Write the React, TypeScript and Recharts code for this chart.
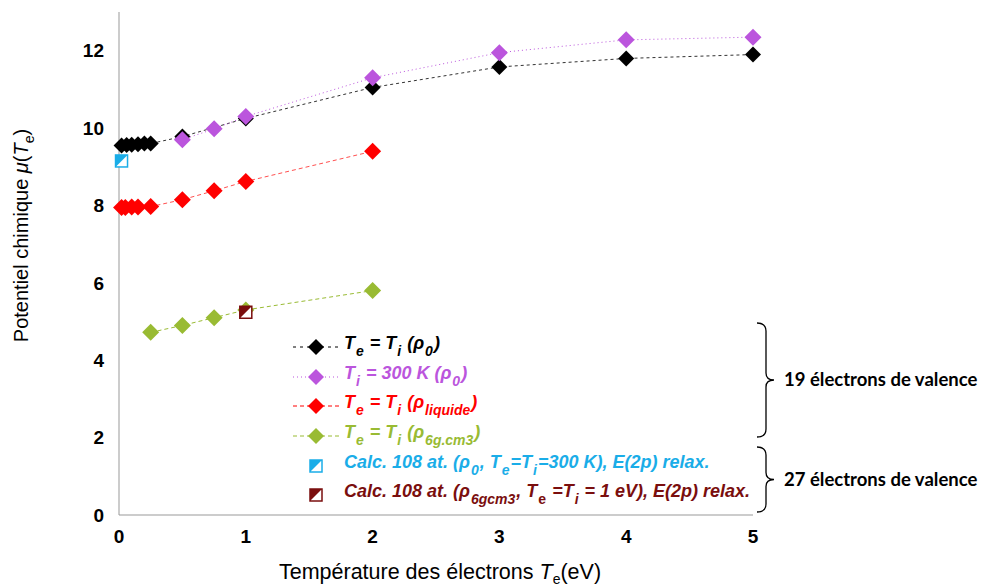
import React from "react";
import { ComposedChart, Line, Scatter, XAxis, YAxis } from "recharts";

// Te = Ti (rho0)
const blackX = [0.02, 0.06, 0.1, 0.15, 0.2, 0.25, 0.5, 1, 2, 3, 4, 5];
const blackY = [9.55, 9.56, 9.57, 9.58, 9.6, 9.6, 9.78, 10.25, 11.05, 11.58, 11.8, 11.9];
// Ti = 300 K (rho0)
const purpleX = [0.5, 0.75, 1, 2, 3, 4, 5];
const purpleY = [9.7, 9.98, 10.3, 11.3, 11.95, 12.28, 12.35];
// Te = Ti (rho liquide)
const redX = [0.02, 0.05, 0.1, 0.15, 0.25, 0.5, 0.75, 1, 2];
const redY = [7.95, 7.95, 7.96, 7.96, 7.97, 8.15, 8.38, 8.62, 9.4];
// Te = Ti (rho 6g.cm3)
const greenX = [0.25, 0.5, 0.75, 1, 2];
const greenY = [4.72, 4.9, 5.1, 5.3, 5.8];
// calculs 108 atomes
const calcBlueX = [0.02];
const calcBlueY = [9.15];
const calcRedX = [1];
const calcRedY = [5.24];

const xTicks = [0, 1, 2, 3, 4, 5];
const yTicks = [0, 2, 4, 6, 8, 10, 12];

const BLACK = "#000000";
const PURPLE = "#BB55DD";
const RED = "#FF0000";
const GREEN = "#99BB33";
const BLUE = "#1AADE8";
const DARKRED = "#7A0E0E";

const FONT = "'Liberation Sans', Arial, sans-serif";

const pts = (xs: number[], ys: number[]) => xs.map((x, i) => ({ x, y: ys[i] }));

const diamond = (color: string, r: number) => (p: any) => {
  const { cx, cy } = p;
  if (cx == null || cy == null) return <g key={Math.random()} />;
  return (
    <path
      key={`${cx}-${cy}`}
      d={`M${cx},${cy - r}L${cx + r},${cy}L${cx},${cy + r}L${cx - r},${cy}Z`}
      fill={color}
    />
  );
};

// carré à moitié rempli (triangle haut-gauche plein)
const halfSquare = (color: string) => (p: any) => {
  const { cx, cy } = p;
  const s = 6;
  return (
    <g>
      <rect x={cx - s} y={cy - s} width={2 * s} height={2 * s} fill="#fff" stroke={color} strokeWidth={1.5} />
      <path d={`M${cx - s},${cy + s}L${cx - s},${cy - s}L${cx + s},${cy - s}Z`} fill={color} />
    </g>
  );
};

const tickStyle = { fontSize: 19, fontWeight: 700, fill: "#000", fontFamily: FONT };

const Sub = ({ children }: { children: React.ReactNode }) => (
  <sub style={{ fontSize: 14, verticalAlign: "-7px", marginLeft: 1, marginRight: 1 }}>{children}</sub>
);

function Sample({ color, dash, square }: { color: string; dash?: string; square?: boolean }) {
  return (
    <svg width={50} height={20} style={{ flex: "none" }}>
      {square ? (
        halfSquare(color)({ cx: 25, cy: 10 })
      ) : (
        <>
          <line x1={2} y1={10} x2={48} y2={10} stroke={color} strokeDasharray={dash} strokeWidth={1} />
          <path d="M25,2L33,10L25,18L17,10Z" fill={color} />
        </>
      )}
    </svg>
  );
}

const legendRows = [
  {
    color: BLACK,
    dash: "3 4",
    text: (
      <>
        T<Sub>e</Sub> = T<Sub>i</Sub> (ρ<Sub>0</Sub>)
      </>
    ),
  },
  {
    color: PURPLE,
    dash: "1 3",
    text: (
      <>
        T<Sub>i</Sub> = 300 K (ρ<Sub>0</Sub>)
      </>
    ),
  },
  {
    color: RED,
    dash: "4 3",
    text: (
      <>
        T<Sub>e</Sub> = T<Sub>i</Sub> (ρ<Sub>liquide</Sub>)
      </>
    ),
  },
  {
    color: GREEN,
    dash: "4 3",
    text: (
      <>
        T<Sub>e</Sub> = T<Sub>i</Sub> (ρ<Sub>6g.cm3</Sub>)
      </>
    ),
  },
  {
    color: BLUE,
    square: true,
    text: (
      <>
        Calc. 108 at. (ρ<Sub>0</Sub>, T<Sub>e</Sub>=T<Sub>i</Sub>=300 K), E(2p) relax.
      </>
    ),
  },
  {
    color: DARKRED,
    square: true,
    text: (
      <>
        Calc. 108 at. (ρ<Sub>6gcm3</Sub>, T<span style={{ fontStyle: "normal" }}><Sub>e</Sub></span> =T<Sub>i</Sub> = 1 eV), E(2p) relax.
      </>
    ),
  },
];

const brackets = [
  { top: 323, bottom: 437, label: "19 électrons de valence" },
  { top: 447, bottom: 512, label: "27 électrons de valence" },
];

export default function App() {
  return (
    <div style={{ position: "absolute", left: 0, top: 0, width: 982, height: 588, background: "#fff" }}>
      <ComposedChart width={982} height={588} margin={{ top: 12, right: 229, bottom: 43, left: 0 }}>
        <XAxis
          dataKey="x"
          type="number"
          domain={[0, 5]}
          ticks={xTicks}
          tick={tickStyle}
          tickLine={false}
          tickSize={6}
          tickMargin={9}
          axisLine={{ stroke: "#999" }}
          height={30}
          allowDuplicatedCategory={false}
          label={{
            content: (props: any) => {
              const vb = props.viewBox;
              return (
                <text x={vb.x + vb.width / 2 + 4} y={vb.y + 64} textAnchor="middle" fontFamily={FONT} fontSize={21.5} fill="#000">
                  Température des électrons{" "}
                  <tspan fontStyle="italic">T</tspan>
                  <tspan dy={5} fontSize={14}>e</tspan>
                  <tspan dy={-5}>(eV)</tspan>
                </text>
              );
            },
          }}
        />
        <XAxis xAxisId="top" orientation="top" type="number" domain={[0, 5]} tick={false} tickLine={false} height={0} axisLine={{ stroke: "#999" }} />
        <YAxis
          type="number"
          domain={[0, 13]}
          ticks={yTicks}
          tick={tickStyle}
          tickLine={false}
          tickSize={6}
          tickMargin={9}
          axisLine={{ stroke: "#999" }}
          width={119}
          label={{
            content: (props: any) => {
              const vb = props.viewBox;
              const cx = 28;
              const cy = vb.y + vb.height / 2 - 28;
              return (
                <text x={cx} y={cy} transform={`rotate(-90 ${cx} ${cy})`} textAnchor="middle" fontFamily={FONT} fontSize={20} fill="#000">
                  Potentiel chimique <tspan fontStyle="italic">μ</tspan>(<tspan fontStyle="italic">T</tspan>
                  <tspan dy={6} fontSize={14}>e</tspan>
                  <tspan dy={-6}>)</tspan>
                </text>
              );
            },
          }}
        />
        <YAxis yAxisId="right" orientation="right" type="number" domain={[0, 13]} tick={false} tickLine={false} width={0} axisLine={{ stroke: "#999" }} />

        <Line data={pts(blackX, blackY)} dataKey="y" stroke="#333" strokeWidth={1} strokeDasharray="3 3" dot={diamond(BLACK, 8)} activeDot={false} isAnimationActive={false} />
        <Line data={pts(purpleX, purpleY)} dataKey="y" stroke={PURPLE} strokeWidth={1} strokeDasharray="1 3" dot={diamond(PURPLE, 8.5)} activeDot={false} isAnimationActive={false} />
        <Line data={pts(redX, redY)} dataKey="y" stroke="#FF5050" strokeWidth={1} strokeDasharray="4 3" dot={diamond(RED, 8.5)} activeDot={false} isAnimationActive={false} />
        <Line data={pts(greenX, greenY)} dataKey="y" stroke={GREEN} strokeWidth={1} strokeDasharray="4 3" dot={diamond(GREEN, 8.5)} activeDot={false} isAnimationActive={false} />
        <Scatter data={pts(calcBlueX, calcBlueY)} dataKey="y" shape={halfSquare(BLUE)} isAnimationActive={false} />
        <Scatter data={pts(calcRedX, calcRedY)} dataKey="y" shape={halfSquare(DARKRED)} isAnimationActive={false} />
      </ComposedChart>

      <div style={{ position: "absolute", left: 291, top: 332, fontFamily: FONT, fontSize: 18, fontWeight: 700, fontStyle: "italic" }}>
        {legendRows.map((r, i) => (
          <div key={i} style={{ display: "flex", alignItems: "center", height: 29.7, color: r.color, whiteSpace: "nowrap" }}>
            <Sample color={r.color} dash={r.dash} square={r.square} />
            <span style={{ marginLeft: 3, lineHeight: "20px" }}>{r.text}</span>
          </div>
        ))}
      </div>

      <svg width={982} height={588} style={{ position: "absolute", left: 0, top: 0, pointerEvents: "none" }}>
        {brackets.map((b, i) => {
          const mid = (b.top + b.bottom) / 2;
          return (
            <g key={i}>
              <path
                d={`M757,${b.top} Q766,${b.top} 766,${b.top + 8} L766,${mid - 7} Q766,${mid} 774,${mid} Q766,${mid} 766,${mid + 7} L766,${b.bottom - 8} Q766,${b.bottom} 757,${b.bottom}`}
                fill="none"
                stroke="#000"
                strokeWidth={1.3}
              />
              <text x={784} y={mid + 6} fontFamily="Lato, 'Open Sans', sans-serif" fontWeight={700} fontSize={18.5} fill="#000">
                {b.label}
              </text>
            </g>
          );
        })}
      </svg>
    </div>
  );
}
